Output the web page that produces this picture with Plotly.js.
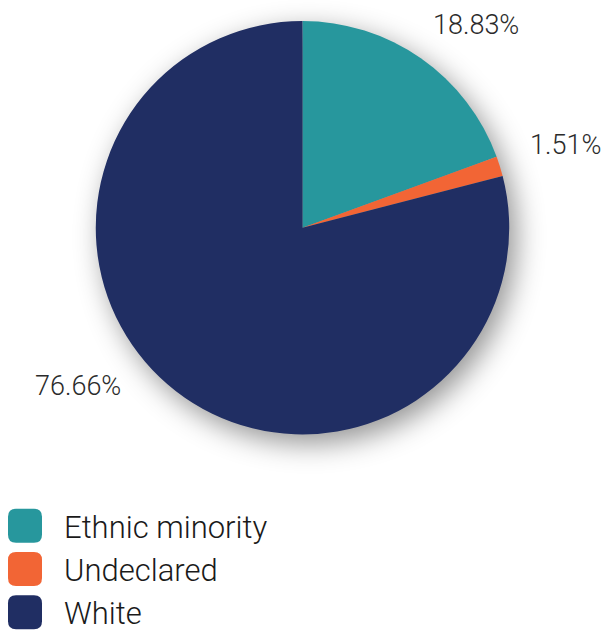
<!DOCTYPE html>
<html>
<head>
<meta charset="utf-8">
<script src="https://cdn.plot.ly/plotly-3.0.1.min.js"></script>
<style>
  html, body { margin: 0; padding: 0; background: #fff; }
  #chart { width: 603px; height: 633px; }
  .pielayer .trace { filter: drop-shadow(7px 9px 14px rgba(0,0,0,0.42)); }
</style>
</head>
<body>
<div id="chart"></div>
<script>
const categories = ["Ethnic minority", "Undeclared", "White"];
const values = [18.83, 1.51, 76.66];
const colors = ["#27979D", "#F26535", "#202E63"];
// label placement (paper coords) for each value label
const labelPos = [[0.7894, 0.9605], [0.9386, 0.7709], [0.1294, 0.3897]];

const trace = {
  type: "pie",
  labels: categories,
  values: values,
  sort: false,
  direction: "clockwise",
  rotation: 0,
  marker: { colors: colors, line: { width: 0 } },
  textinfo: "none",
  hoverinfo: "label+percent",
  domain: { x: [0.1575, 0.8458], y: [0.3136, 0.9668] }
};

const annotations = values.map((v, i) => ({
  xref: "paper", yref: "paper",
  x: labelPos[i][0], y: labelPos[i][1],
  xanchor: "center", yanchor: "middle",
  text: v.toFixed(2) + "%",
  showarrow: false,
  font: { family: "Roboto", size: 27, color: "#2b2b2b", weight: 300 }
}));

const layout = {
  width: 603, height: 633,
  margin: { l: 0, r: 0, t: 0, b: 0 },
  paper_bgcolor: "#fff",
  showlegend: true,
  legend: {
    x: 0, xanchor: "left", y: 0, yanchor: "bottom",
    font: { family: "Roboto", size: 31, color: "#1a1a1a", weight: 300 },
    itemwidth: 54,
    traceorder: "normal"
  },
  annotations: annotations
};

Plotly.newPlot("chart", [trace], layout, { staticPlot: true }).then(() => {
  document.querySelectorAll(".legendpie").forEach(p => {
    const s = 17, r = 8;
    p.setAttribute("d",
      `M${-s + r},${-s}H${s - r}Q${s},${-s} ${s},${-s + r}V${s - r}Q${s},${s} ${s - r},${s}` +
      `H${-s + r}Q${-s},${s} ${-s},${s - r}V${-s + r}Q${-s},${-s} ${-s + r},${-s}Z`);
    p.setAttribute("transform", "translate(25,0)");
  });
  // nudge legend block down slightly to sit at the bottom edge
  const lg = document.querySelector("g.legend");
  if (lg) {
    const t = lg.getAttribute("transform") || "";
    const m = t.match(/translate\(\s*([-\d.]+)[ ,]+([-\d.]+)\s*\)/);
    if (m) lg.setAttribute("transform", `translate(${m[1]},${parseFloat(m[2]) + 6})`);
  }
});
</script>
</body>
</html>
